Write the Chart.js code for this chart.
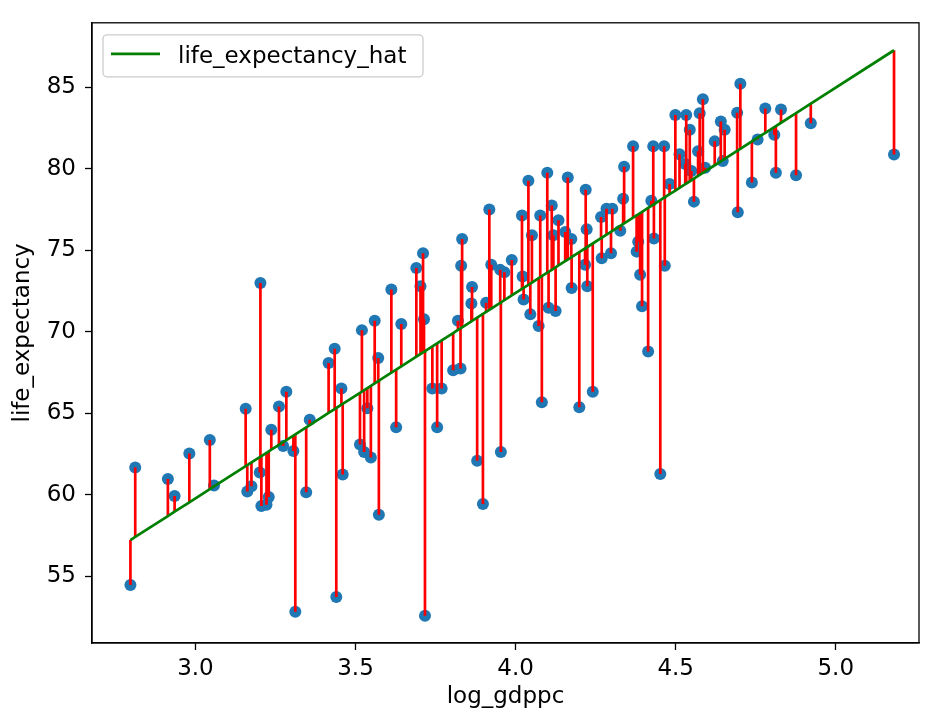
<!DOCTYPE html>
<html>
<head>
<meta charset="utf-8">
<script src="https://cdn.jsdelivr.net/npm/chart.js@4.4.1/dist/chart.umd.min.js"></script>
<style>
  html, body { margin: 0; padding: 0; background: #fff; }
  #wrap { width: 925px; height: 717px; }
</style>
</head>
<body>
<div id="wrap"><canvas id="fit"></canvas></div>
<script>
// values
const log_gdppc = [
  2.797, 2.812, 2.914, 2.935, 2.981, 3.045, 3.058, 3.157, 3.162, 3.175, 3.203, 3.201, 3.206, 3.222, 3.229, 3.237,
  3.261, 3.284, 3.274, 3.306, 3.312, 3.346, 3.357,
  3.416, 3.435, 3.440, 3.456, 3.460, 3.520, 3.514, 3.527, 3.537, 3.548, 3.560, 3.571, 3.573, 3.612, 3.627, 3.643,
  3.690, 3.711, 3.703, 3.714, 3.717, 3.740, 3.769, 3.755, 3.805, 3.828, 3.820, 3.830, 3.833, 3.864, 3.862, 3.880,
  3.898, 3.954,
  3.918, 3.924, 3.908, 3.952, 3.965, 3.988, 4.020, 4.040, 4.022, 4.025, 4.046, 4.051, 4.077, 4.099, 4.072, 4.113,
  4.103, 4.125, 4.134, 4.155, 4.163, 4.175, 4.219, 4.222, 4.217, 4.224, 4.267, 4.269, 4.284, 4.302, 4.298, 4.336,
  4.339,
  4.082, 4.199, 4.241, 4.414, 4.452,
  4.367, 4.430, 4.464, 4.424, 4.383, 4.378, 4.432, 4.466, 4.499, 4.533, 4.544, 4.575, 4.585, 4.570, 4.592, 4.557,
  4.481, 4.549, 4.641, 4.653, 4.622,
  4.702, 4.692, 4.694, 4.738, 4.756, 4.780, 4.829, 4.808, 4.813, 4.876, 4.922, 5.182, 4.647,
  4.395, 4.389, 4.327, 4.118, 4.174, 4.512, 4.530
];
const life_expectancy = [
  54.45, 61.67, 60.96, 59.91, 62.52, 63.35, 60.56, 65.27, 60.19, 60.52, 73.00, 61.36, 59.30, 59.38, 59.85, 63.99,
  65.41, 66.32, 62.99, 62.68, 52.81, 60.15, 64.60,
  68.08, 68.95, 53.72, 66.52, 61.23, 70.10, 63.08, 62.62, 65.31, 62.28, 70.67, 68.39, 58.77, 72.59, 64.14, 70.47,
  73.91, 74.82, 72.79, 70.77, 52.57, 66.52, 66.52, 64.14, 67.63, 67.74, 70.67, 74.05, 75.69, 72.75, 71.74, 62.08,
  59.42, 62.62,
  77.51, 74.11, 71.78, 73.80, 73.66, 74.41, 77.14, 79.27, 73.40, 71.98, 71.07, 75.93, 77.14, 79.77, 70.36, 77.75,
  71.48, 71.27, 76.84, 76.13, 79.47, 72.69, 78.72, 76.29, 74.11, 72.79, 77.04, 74.51, 77.55, 77.55, 74.82, 78.16,
  80.13,
  65.67, 65.37, 66.32, 68.79, 61.26,
  81.39, 81.39, 81.39, 78.05, 75.52, 74.92, 75.73, 74.05, 83.31, 83.31, 82.40, 83.41, 84.28, 81.09, 80.07, 77.99,
  79.07, 79.87, 82.91, 82.40, 81.69,
  85.23, 83.45, 77.34, 79.16, 81.80, 83.71, 83.65, 82.10, 79.77, 79.61, 82.80, 80.89, 80.48,
  71.56, 73.50, 76.20, 75.93, 75.70, 80.90, 80.30
];

// fitted line, read from its two ends
const intercept = 21.94;
const slope = 12.61;

const xTicks = [3.0, 3.5, 4.0, 4.5, 5.0];
const yTicks = [55, 60, 65, 70, 75, 80, 85];

const life_expectancy_hat = log_gdppc.map(x => intercept + slope * x);

const points = log_gdppc.map((x, i) => ({x: x, y: life_expectancy[i]}));
const hatLine = log_gdppc.map((x, i) => ({x: x, y: life_expectancy_hat[i]})).sort((a, b) => a.x - b.x);
const residuals = [];
log_gdppc.forEach((x, i) => {
  residuals.push({x: x, y: life_expectancy_hat[i]}, {x: x, y: life_expectancy[i]}, {x: x, y: null});
});

const FONT = 'DejaVu Sans';
const FONT_SIZE = 23;
Chart.defaults.font.family = FONT;
Chart.defaults.font.size = FONT_SIZE;
Chart.defaults.color = '#000';

// matplotlib style frame + legend box
const framePlugin = {
  id: 'frame',
  afterDraw(chart) {
    const {ctx, chartArea: a} = chart;
    ctx.save();
    ctx.strokeStyle = '#000';
    ctx.lineWidth = 1.3;
    ctx.strokeRect(a.left, a.top, a.right - a.left, a.bottom - a.top);

    const ds = chart.data.datasets.find(d => d.label === 'life_expectancy_hat');
    const x0 = a.left + 11, y0 = a.top + 12;
    ctx.fillStyle = 'rgba(255,255,255,0.8)';
    ctx.strokeStyle = '#cccccc';
    ctx.lineWidth = 1.3;
    ctx.beginPath();
    ctx.roundRect(x0, y0, 320, 42, 4);
    ctx.fill();
    ctx.stroke();
    ctx.strokeStyle = ds.borderColor;
    ctx.lineWidth = ds.borderWidth;
    ctx.beginPath();
    ctx.moveTo(x0 + 8, y0 + 19);
    ctx.lineTo(x0 + 57, y0 + 19);
    ctx.stroke();
    ctx.fillStyle = '#000';
    ctx.font = FONT_SIZE + 'px "' + FONT + '"';
    ctx.textBaseline = 'alphabetic';
    ctx.fillText(ds.label, x0 + 75, y0 + 28);
    ctx.restore();
  }
};

const tickGrid = {drawOnChartArea: false, drawTicks: true, tickLength: 7, tickColor: '#000', tickWidth: 1.3};

new Chart(document.getElementById('fit'), {
  type: 'scatter',
  data: {
    datasets: [
      {
        label: 'life_expectancy',
        data: points,
        backgroundColor: '#1f77b4',
        borderWidth: 0,
        pointRadius: 6,
        order: 3
      },
      {
        label: 'residual',
        data: residuals,
        showLine: true,
        spanGaps: false,
        borderColor: '#ff0000',
        borderWidth: 2.7,
        pointRadius: 0,
        order: 2
      },
      {
        label: 'life_expectancy_hat',
        data: hatLine,
        showLine: true,
        borderColor: '#008000',
        backgroundColor: '#008000',
        borderWidth: 2.7,
        pointRadius: 0,
        order: 1
      }
    ]
  },
  options: {
    responsive: true,
    maintainAspectRatio: false,
    animation: false,
    devicePixelRatio: 1,
    layout: {padding: {top: 15, right: 3, left: 0, bottom: 0}},
    plugins: {
      legend: {display: false},
      tooltip: {enabled: false}
    },
    scales: {
      x: {
        type: 'linear',
        min: 2.677,
        max: 5.26,
        afterFit: s => { s.height = 74; },
        afterBuildTicks: s => { s.ticks = xTicks.map(v => ({value: v})); },
        grid: tickGrid,
        border: {display: true, color: '#000', width: 1.3},
        ticks: {padding: 5, maxRotation: 0, autoSkip: false, callback: v => v.toFixed(1)},
        title: {display: true, text: 'log_gdppc', padding: {top: 0, bottom: 6}}
      },
      y: {
        type: 'linear',
        min: 50.89,
        max: 88.97,
        afterFit: s => { s.width = 92; },
        afterBuildTicks: s => { s.ticks = yTicks.map(v => ({value: v})); },
        grid: tickGrid,
        border: {display: true, color: '#000', width: 1.3},
        ticks: {padding: 9, autoSkip: false, callback: v => String(v)},
        title: {display: true, text: 'life_expectancy', padding: {top: 9, bottom: 0}}
      }
    }
  },
  plugins: [framePlugin]
});
</script>
</body>
</html>
